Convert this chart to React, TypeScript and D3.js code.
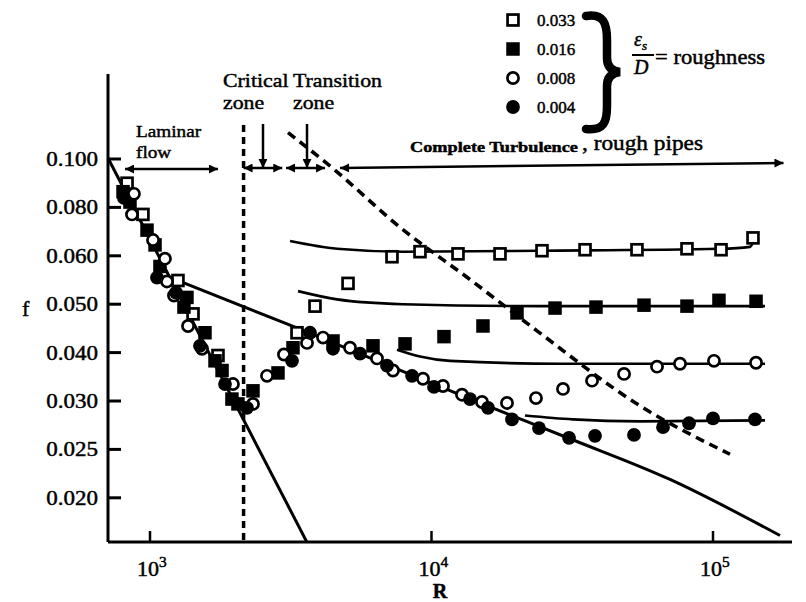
import React from 'react';
import * as d3 from 'd3';

// y axis ticks: the original figure spaces these evenly
const fTicks = [0.1, 0.08, 0.06, 0.05, 0.04, 0.03, 0.025, 0.02];
const fTickLabels = ['0.100', '0.080', '0.060', '0.050', '0.040', '0.030', '0.025', '0.020'];
const rTicks = [1e3, 1e4, 1e5];
const rTickExp = ['3', '4', '5'];

const roughness = ['0.033', '0.016', '0.008', '0.004'];

// measured points [R, f] for each relative roughness
const openSquares = [
  [829, 0.09], [944, 0.0771], [1257, 0.0549], [1422, 0.048], [1744, 0.0394], [3328, 0.0441],
  [3856, 0.0496], [5052, 0.0543], [7239, 0.0598], [9102, 0.0617], [12420, 0.0608], [17514, 0.0608],
  [24690, 0.0621], [35110, 0.0625], [53700, 0.0625], [80830, 0.0629], [106800, 0.0625], [138700, 0.0674],
];
const filledSquares = [
  [802, 0.0865], [849, 0.0822], [976, 0.0706], [1042, 0.0645], [1085, 0.0578], [1353, 0.0514],
  [1320, 0.0494], [1568, 0.0441], [1702, 0.0383], [1803, 0.0363], [1955, 0.0304], [2053, 0.0297],
  [2322, 0.0321], [2849, 0.0358], [3221, 0.041], [4468, 0.0424], [6197, 0.0414], [8053, 0.0418],
  [11075, 0.0433], [15237, 0.0455], [20125, 0.0482], [27468, 0.0492], [38400, 0.0494], [56870, 0.0498],
  [80830, 0.0496], [105000, 0.0508], [142200, 0.0506],
];
const openCircles = [
  [877, 0.0856], [863, 0.0771], [1025, 0.0665], [1130, 0.0594], [1149, 0.0547], [1217, 0.0518],
  [1365, 0.0455], [1530, 0.0408], [1971, 0.0335], [2322, 0.0297], [2604, 0.0352], [2992, 0.0396],
  [3612, 0.042], [4118, 0.0431], [5135, 0.041], [6403, 0.0388], [7298, 0.0363], [9328, 0.0346],
  [10986, 0.0331], [12834, 0.0313], [15115, 0.0299], [18544, 0.0298], [23502, 0.0306], [29320, 0.0325],
  [37180, 0.0342], [48300, 0.0356], [63260, 0.0371], [76340, 0.0377], [100800, 0.0383], [142200, 0.0379],
];
const filledCircles = [
  [808, 0.0839], [1059, 0.0555], [1237, 0.0524], [1505, 0.0414], [1847, 0.0335], [2211, 0.0293],
  [3195, 0.0383], [3702, 0.0441], [4468, 0.0408], [5572, 0.0398], [6949, 0.0373], [8527, 0.0352],
  [10206, 0.0329], [13705, 0.0304], [15873, 0.0293], [19320, 0.0281], [24090, 0.0272], [30800, 0.0262],
  [38100, 0.0264], [52400, 0.0265], [66440, 0.0273], [82170, 0.0277], [100000, 0.0282], [141000, 0.0281],
];

// drawn curves [R, f]
const laminarLine = [[709, 0.1004], [3612, 0.0154]];
const smoothLine = [[1278, 0.0547], [3328, 0.0451], [14870, 0.0298], [31050, 0.0261], [70340, 0.0219], [173000, 0.0161]];
const rough033 = [[3144, 0.0661], [4617, 0.0629], [7921, 0.0617], [24290, 0.0621], [105900, 0.0629], [135400, 0.0637], [139900, 0.0665]];
const rough016 = [[3356, 0.0527], [4617, 0.051], [7921, 0.05], [23890, 0.0496], [153000, 0.0496]];
const rough008 = [[7541, 0.0406], [9102, 0.0392], [11635, 0.0383], [28610, 0.0377], [153000, 0.0377]];
const rough004 = [[21482, 0.0285], [31810, 0.0281], [55050, 0.0279], [153000, 0.028]];
const turbulenceLimit = [[3092, 0.1109], [4468, 0.0961], [7726, 0.0718], [13705, 0.0551], [23700, 0.0445], [55050, 0.0295], [114900, 0.0245]];
const criticalR = 2150;

const SERIF = '"Liberation Serif", "Times New Roman", serif';

const x = d3.scaleLog().domain([1e3, 1e5]).range([150, 713]);
const y = d3.scaleLinear().domain(fTicks).range(fTicks.map((_, i) => 159 + i * 48.4));

const axisX = 108;
const axisY = 542;
const axisTop = 74;
const axisRight = 792;

const line = d3.line<number[]>().x(d => x(d[0])).y(d => y(d[1])).curve(d3.curveMonotoneX);
const straight = d3.line<number[]>().x(d => x(d[0])).y(d => y(d[1]));

function Marker({ kind, cx, cy }: { kind: number; cx: number; cy: number }) {
  const s = 13.5;
  if (kind === 0) return <rect x={cx - s / 2 + 1.3} y={cy - s / 2 + 1.3} width={s - 2.6} height={s - 2.6} fill="#fff" stroke="#000" strokeWidth={2.7} />;
  if (kind === 1) return <rect x={cx - s / 2} y={cy - s / 2} width={s} height={s} fill="#000" />;
  if (kind === 2) return <circle cx={cx} cy={cy} r={5.6} fill="#fff" stroke="#000" strokeWidth={2.7} />;
  return <circle cx={cx} cy={cy} r={6.9} fill="#000" />;
}

function T({ x, y, sx = 1, size = 20, anchor = 'start', weight = 'normal', style = 'normal', len, children }: any) {
  return (
    <text transform={`translate(${x},${y}) scale(${sx},1)`} fontSize={size} textAnchor={anchor}
      fontWeight={weight} fontStyle={style} fontFamily={SERIF} fill="#000"
      stroke="#000" strokeWidth={0.45}
      textLength={len} lengthAdjust={len ? 'spacingAndGlyphs' : undefined}>
      {children}
    </text>
  );
}

export default function App() {
  const series = [openSquares, filledSquares, openCircles, filledCircles];
  const arrowY = 168;
  return (
    <svg width={806} height={602} style={{ position: 'absolute', left: 0, top: 0, background: '#fff' }}>
      <defs>
        <marker id="ah" viewBox="0 0 10 10" refX="10" refY="5" markerWidth="11" markerHeight="9"
          markerUnits="userSpaceOnUse" orient="auto-start-reverse">
          <path d="M0,0 L10,5 L0,10 z" fill="#000" />
        </marker>
      </defs>

      {/* axes */}
      <line x1={axisX} y1={axisTop} x2={axisX} y2={axisY} stroke="#000" strokeWidth={3} />
      <line x1={axisX} y1={axisY} x2={axisRight} y2={axisY} stroke="#000" strokeWidth={3} />
      {fTicks.map((f, i) => (
        <g key={f}>
          <line x1={axisX} x2={axisX + 13} y1={y(f)} y2={y(f)} stroke="#000" strokeWidth={3} />
          <T x={98} y={y(f) + 7} sx={1.15} anchor="end">{fTickLabels[i]}</T>
        </g>
      ))}
      {rTicks.map((r, i) => (
        <g key={r}>
          <line x1={x(r)} x2={x(r)} y1={axisY} y2={axisY - 11} stroke="#000" strokeWidth={2.5} />
          <T x={x(r) - 13} y={576} sx={1.1}>10<tspan dy={-9} fontSize={14}>{rTickExp[i]}</tspan></T>
        </g>
      ))}
      <T x={440} y={598} anchor="middle" weight="bold" size={20}>R</T>
      <T x={22} y={316} size={22}>f</T>

      {/* critical Reynolds number */}
      <line x1={x(criticalR)} x2={x(criticalR)} y1={125} y2={axisY} stroke="#000" strokeWidth={3.5} strokeDasharray="7 5" />

      {/* curves */}
      <path d={straight(laminarLine as any) as string} fill="none" stroke="#000" strokeWidth={3} />
      <path d={line(smoothLine as any) as string} fill="none" stroke="#000" strokeWidth={3} />
      {[rough033, rough016, rough008, rough004].map((c, i) => (
        <path key={i} d={line(c as any) as string} fill="none" stroke="#000" strokeWidth={2.6} />
      ))}
      <path d={line(turbulenceLimit as any) as string} fill="none" stroke="#000" strokeWidth={3.6} strokeDasharray="9 6" />

      {/* data points */}
      {series.map((s, k) => s.map((d, i) => <Marker key={k + '-' + i} kind={k} cx={x(d[0])} cy={y(d[1])} />))}

      {/* zone annotations */}
      <line x1={x(815)} x2={x(1744)} y1={arrowY + 1} y2={arrowY + 1} stroke="#000" strokeWidth={2.5} markerStart="url(#ah)" markerEnd="url(#ah)" />
      <line x1={x(criticalR)} x2={x(2950)} y1={arrowY} y2={arrowY} stroke="#000" strokeWidth={2.5} markerStart="url(#ah)" markerEnd="url(#ah)" />
      <line x1={x(2520)} x2={x(2520)} y1={124} y2={arrowY} stroke="#000" strokeWidth={2.5} markerEnd="url(#ah)" />
      <line x1={x(3042)} x2={x(4186)} y1={arrowY} y2={arrowY} stroke="#000" strokeWidth={2.5} markerStart="url(#ah)" markerEnd="url(#ah)" />
      <line x1={x(3612)} x2={x(3612)} y1={124} y2={arrowY} stroke="#000" strokeWidth={2.5} markerEnd="url(#ah)" />
      <line x1={x(4732)} x2={x(178000)} y1={arrowY} y2={arrowY - 5} stroke="#000" strokeWidth={2.5} markerStart="url(#ah)" markerEnd="url(#ah)" />

      <T x={136} y={137} size={17.5} sx={1.1}>Laminar</T>
      <T x={136} y={158} size={17.5} sx={1.1}>flow</T>
      <T x={223} y={87} size={19} sx={1.15}>Critical</T>
      <T x={223} y={109} size={19} sx={1.15}>zone</T>
      <T x={293} y={87} size={19} sx={1.15}>Transition</T>
      <T x={293} y={109} size={19} sx={1.15}>zone</T>
      <T x={410} y={152} size={15} weight="bold" len={168}>Complete Turbulence</T>
      <T x={582} y={150} size={20} len={121}>, rough pipes</T>

      {/* legend */}
      {roughness.map((r, i) => (
        <g key={r}>
          <Marker kind={i} cx={513} cy={20 + i * 29} />
          <T x={537} y={26 + i * 29} size={17}>{r}</T>
        </g>
      ))}
      <path d="M586,16 C604,13 607,24 607,40 L607,58 C607,66 611,71 620,72 C611,73 607,78 607,86 L607,106 C607,122 604,131 586,129"
        fill="none" stroke="#000" strokeWidth={8.5} strokeLinecap="round" />
      <T x={634} y={46} size={20} style="italic">ε<tspan dy={4} fontSize={13}>s</tspan></T>
      <line x1={632} x2={654} y1={55} y2={55} stroke="#000" strokeWidth={2} />
      <T x={634} y={74} size={20} style="italic">D</T>
      <T x={655} y={64} size={21} len={110}>= roughness</T>
    </svg>
  );
}
